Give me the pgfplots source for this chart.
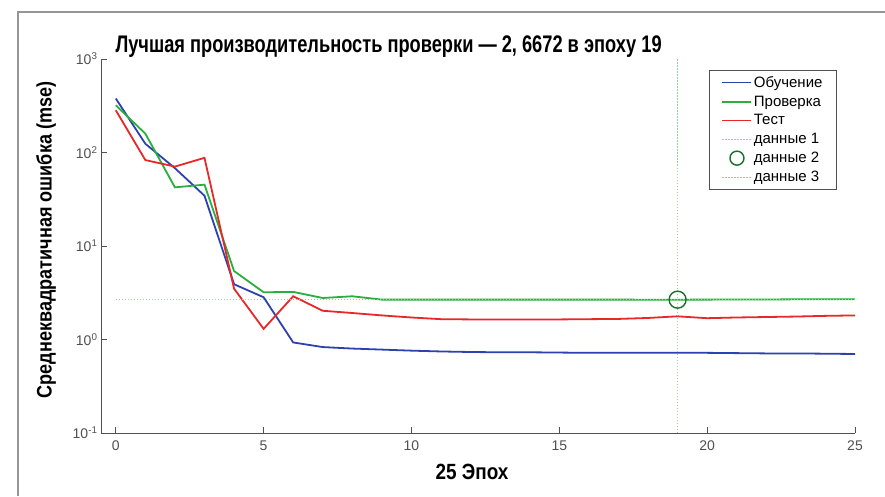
\documentclass[border=0pt]{standalone}
\usepackage{fontspec}
\setmainfont{Liberation Sans}
\newfontfamily\titlefont[FakeStretch=0.76]{Liberation Sans Bold}
\newfontfamily\labelfont[FakeStretch=0.86]{Liberation Sans Bold}
\usepackage{pgfplots}
\pgfplotsset{compat=1.18}

\definecolor{trainblue}{RGB}{45,65,175}
\definecolor{validgreen}{RGB}{40,175,60}
\definecolor{testred}{RGB}{232,40,40}
\definecolor{bestgreen}{RGB}{25,110,45}
\definecolor{guidegreen}{RGB}{150,210,150}
\definecolor{axisgray}{RGB}{80,80,80}
\definecolor{framegray}{RGB}{150,150,150}

\pgfplotsset{
  short line legend/.style={legend image code/.code={\draw[##1] (0pt,0pt) -- (29pt,0pt);}},
  ring legend/.style={legend image code/.code={\draw[##1] (14.5pt,0pt) circle (7pt);}},
}

\pgfplotstableread{
x train valid test
0 378 320 283
1 124 159 83
2 68 42.4 70.7
3 34.5 45.3 87.7
4 3.9 5.4 3.5
5 2.83 3.2 1.30
6 0.93 3.23 2.9
7 0.83 2.78 2.03
8 0.80 2.9 1.92
9 0.78 2.67 1.81
10 0.76 2.67 1.72
11 0.745 2.67 1.65
12 0.735 2.67 1.64
13 0.73 2.67 1.64
14 0.73 2.67 1.64
15 0.725 2.67 1.64
16 0.72 2.67 1.65
17 0.72 2.67 1.66
18 0.72 2.667 1.70
19 0.72 2.6672 1.77
20 0.72 2.67 1.69
21 0.715 2.68 1.72
22 0.71 2.68 1.74
23 0.71 2.69 1.76
24 0.705 2.70 1.79
25 0.70 2.70 1.81
}\perf

\begin{document}
\begin{tikzpicture}[x=1pt,y=1pt]
\useasboundingbox (0,0) rectangle (885,496);
\draw[framegray, line width=1.2pt] (18,0) -- (18,484) -- (885,484);
\begin{axis}[
  at={(101pt,63pt)}, anchor=south west,
  scale only axis, width=754pt, height=374pt,
  ymode=log, log basis y=10,
  xmin=-0.5, xmax=25, ymin=0.1, ymax=1000,
  axis lines*=left,
  axis line style={axisgray, line width=1pt},
  tick style={axisgray, line width=0.6pt},
  major tick length=6pt, minor tick length=3pt,
  tick align=inside,
  xtick={0,5,10,15,20,25},
  ytick={0.1,1,10,100,1000},
  yticklabel={10\textsuperscript{\pgfmathparse{int(round(\tick))}\pgfmathresult}},
  /pgf/number format/assume math mode=true,
  ticklabel style={font=\fontsize{14}{16}\selectfont, text=axisgray},
  xticklabel style={yshift=-4pt},
  legend cell align=left,
  legend style={at={(0.975,0.9706)}, anchor=north east,
    draw=axisgray, font=\fontsize{15}{17}\selectfont,
    row sep=3pt, inner xsep=12pt, inner ysep=4pt,
    nodes={inner xsep=1.5pt, text=black}},
  short line legend,
  clip=false,
]
\addplot[trainblue, line width=1.8pt] table[x=x, y=train] {\perf};
\addlegendentry{Обучение}
\addplot[validgreen, line width=1.8pt] table[x=x, y=valid] {\perf};
\addlegendentry{Проверка}
\addplot[testred, line width=1.8pt] table[x=x, y=test] {\perf};
\addlegendentry{Тест}
\addplot[guidegreen, dash pattern=on 1.5pt off 1.5pt, line width=1pt] coordinates {(0,2.6672) (25,2.6672)};
\addlegendentry{данные 1}
\addplot[bestgreen, only marks, mark=o, mark size=8.5pt, line width=1.4pt, ring legend]
  coordinates {(19,2.6672)};
\addlegendentry{данные 2}
\addplot[guidegreen, dash pattern=on 1.5pt off 1.5pt, line width=1pt] coordinates {(19,0.1) (19,1000)};
\addlegendentry{данные 3}
\end{axis}
\node[anchor=base west, font=\titlefont\fontsize{24}{28}\selectfont] at (112,443)
  {Лучшая производительность проверки — 2, 6672 в эпоху 19};
\node[rotate=90, font=\labelfont\fontsize{21}{24}\selectfont] at (46,256)
  {Среднеквадратичная ошибка (mse)};
\node[anchor=base, font=\labelfont\fontsize{22}{25}\selectfont] at (472,17)
  {25 Эпох};
\end{tikzpicture}
\end{document}
